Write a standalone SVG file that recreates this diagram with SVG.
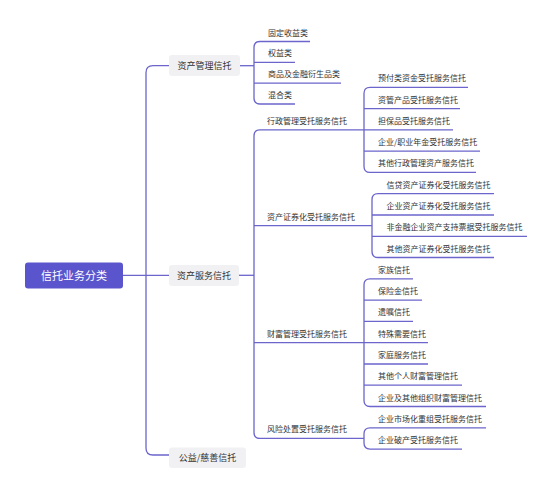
<svg xmlns="http://www.w3.org/2000/svg" width="552" height="494" viewBox="0 0 552 494">
<style>
text{font-family:"Noto Sans CJK SC","Noto Sans",sans-serif;fill:#333}
.l{font-size:8px}
.b{font-size:9px}
.root{font-size:11px;fill:#fff}
.box{fill:#f1f1f4}
.c{fill:none;stroke:#6b65cc;stroke-width:1.3}
</style>
<rect width="552" height="494" fill="#fff"/>
<g id="connectors" class="c">
<path d="M123,275.3 H169"/>
<path d="M169,65.7 H153 Q146,65.7 146,72.7 V448 Q146,455 153,455 H169"/>
<path d="M240,65.7 H254"/>
<path d="M310,41.5 H260 Q254,41.5 254,47.5 V98 Q254,104 260,104 H295"/>
<path d="M254,62.3 H295 M254,83.1 H341"/>
<path d="M239,275.3 H254"/>
<path d="M364,129.9 H260 Q254,129.9 254,135.9 V432.4 Q254,438.4 260,438.4 H364"/>
<path d="M254,225.6 H372 M254,342.7 H364"/>
<path d="M468,87.3 H370 Q364,87.3 364,93.3 V166.4 Q364,172.4 370,172.4 H476"/>
<path d="M364,108.6 H460 M364,129.9 H453 M364,151.1 H480"/>
<path d="M494,193.7 H378 Q372,193.7 372,199.7 V251.5 Q372,257.5 378,257.5 H494"/>
<path d="M372,215 H494 M372,236.3 H527"/>
<path d="M413,278.8 H370 Q364,278.8 364,284.8 V400.5 Q364,406.5 370,406.5 H486"/>
<path d="M364,300.1 H422 M364,321.4 H413 M364,342.7 H428 M364,364 H428 M364,385.2 H462"/>
<path d="M486,427.8 H370 Q364,427.8 364,433.8 V443.1 Q364,449.1 370,449.1 H462"/>
</g>
<g id="root">
<rect x="25" y="262.5" width="98" height="26" rx="3" fill="#5a55cc"/>
<text class="root" x="74" y="279.5" text-anchor="middle">信托业务分类</text>
</g>
<g id="n-zcgl">
<rect class="box" x="169" y="55" width="71" height="21" rx="3"/>
<text class="b" x="204.5" y="68.8" text-anchor="middle">资产管理信托</text>
</g>
<g id="n-zcfw">
<rect class="box" x="169" y="265" width="70" height="21" rx="3"/>
<text class="b" x="204" y="278.6" text-anchor="middle">资产服务信托</text>
</g>
<g id="n-gy">
<rect class="box" x="169" y="447.5" width="77" height="20.5" rx="3"/>
<text class="b" x="207.5" y="461" text-anchor="middle">公益/慈善信托</text>
</g>
<g id="n-gdsy"><text class="l" x="268" y="35.5">固定收益类</text></g>
<g id="n-qy"><text class="l" x="268" y="56.3">权益类</text></g>
<g id="n-sp"><text class="l" x="268" y="77.1">商品及金融衍生品类</text></g>
<g id="n-hh"><text class="l" x="268" y="98">混合类</text></g>
<g id="n-xz"><text class="l" x="267" y="123.9">行政管理受托服务信托</text></g>
<g id="n-zqh"><text class="l" x="267" y="219.6">资产证券化受托服务信托</text></g>
<g id="n-cf"><text class="l" x="267" y="336.7">财富管理受托服务信托</text></g>
<g id="n-fx"><text class="l" x="267" y="432.4">风险处置受托服务信托</text></g>
<g id="n-yf"><text class="l" x="378" y="81.3">预付类资金受托服务信托</text></g>
<g id="n-zg"><text class="l" x="378" y="102.6">资管产品受托服务信托</text></g>
<g id="n-db"><text class="l" x="378" y="123.9">担保品受托服务信托</text></g>
<g id="n-nj"><text class="l" x="378" y="145.1">企业/职业年金受托服务信托</text></g>
<g id="n-qtxz"><text class="l" x="378" y="166.4">其他行政管理资产服务信托</text></g>
<g id="n-xd"><text class="l" x="386.5" y="187.7">信贷资产证券化受托服务信托</text></g>
<g id="n-qyzq"><text class="l" x="386.5" y="209">企业资产证券化受托服务信托</text></g>
<g id="n-fjr"><text class="l" x="386.5" y="230.3">非金融企业资产支持票据受托服务信托</text></g>
<g id="n-qtzq"><text class="l" x="386.5" y="251.5">其他资产证券化受托服务信托</text></g>
<g id="n-jz"><text class="l" x="378" y="272.8">家族信托</text></g>
<g id="n-bxj"><text class="l" x="378" y="294.1">保险金信托</text></g>
<g id="n-yz"><text class="l" x="378" y="315.4">遗嘱信托</text></g>
<g id="n-ts"><text class="l" x="378" y="336.7">特殊需要信托</text></g>
<g id="n-jt"><text class="l" x="378" y="358">家庭服务信托</text></g>
<g id="n-grcf"><text class="l" x="378" y="379.2">其他个人财富管理信托</text></g>
<g id="n-qycf"><text class="l" x="378" y="400.5">企业及其他组织财富管理信托</text></g>
<g id="n-cz"><text class="l" x="378" y="421.8">企业市场化重组受托服务信托</text></g>
<g id="n-pc"><text class="l" x="378" y="443.1">企业破产受托服务信托</text></g>
</svg>
